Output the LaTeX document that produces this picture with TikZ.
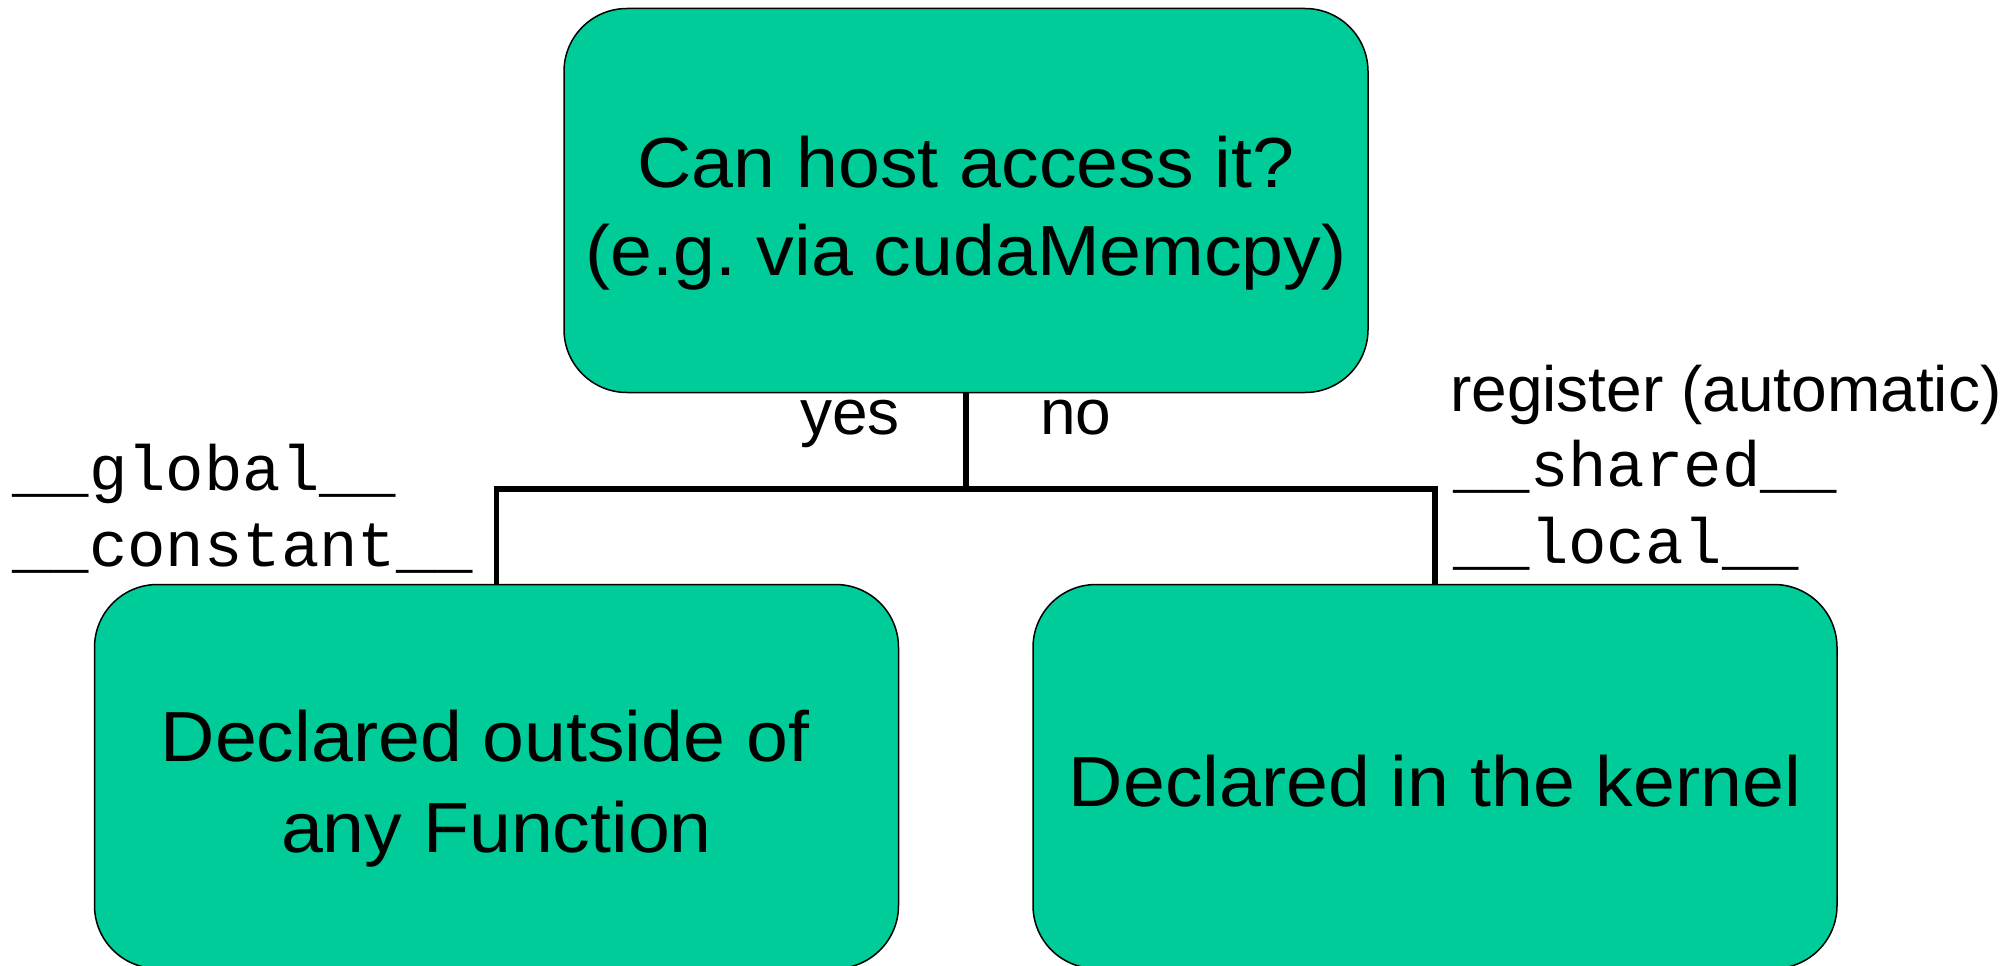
\documentclass[tikz,border=0pt]{standalone}
\usepackage{fontspec}
\setmainfont{Liberation Sans}
\newfontfamily\boxfont[FakeStretch=1.06]{Liberation Sans}
\setmonofont{Liberation Mono}
\definecolor{boxgreen}{RGB}{0,204,153}
\begin{document}
\begin{tikzpicture}[x=1pt,y=-1pt,
  box/.style={draw=black, line width=1.5pt, fill=boxgreen, rounded corners=63pt,
    minimum width=804pt, minimum height=384pt, inner sep=0pt, outer sep=0pt},
  bigtxt/.style={font=\boxfont\fontsize{71}{85}\selectfont, inner sep=0pt, anchor=base},
  lbl/.style={font=\fontsize{64}{76}\selectfont, inner sep=0pt, anchor=base west},
  mono/.style={font=\ttfamily\fontsize{64}{76}\selectfont, inner sep=0pt, anchor=base west},
  conn/.style={draw=black, line width=5.5pt, line join=miter}
]
\useasboundingbox (0,0) rectangle (2010,966);
% boxes
\node[box] (top) at (966,200.5) {};
\node[box] (left) at (496.5,776.5) {};
\node[box] (right) at (1435,776.5) {};
% box texts
\node[bigtxt] (q1) at (966,187.5) {Can host access it?};
\node[bigtxt] (q2) at (966,275.5) {(e.g.\ via cudaMemcpy)};
\node[bigtxt] (l1) at (485,761) {Declared outside of};
\node[bigtxt] (l2) at (496.5,852) {any Function};
\node[bigtxt] (r1) at (1435,806) {Declared in the kernel};
% connectors
\coordinate (split) at (966,489);
\draw[conn] (top.south) -- (split);
\draw[conn] (left.north) |- (split) -| (right.north);
% labels
\node[lbl] (yes) at (800,434) {yes};
\node[lbl] (no) at (1040,434) {no};
\node[lbl] (reg) at (1450,411) {register (automatic)};
\node[mono] (glob) at (12,490) {\_\_global\_\_};
\node[mono] (const) at (12,566) {\_\_constant\_\_};
\node[mono] (shar) at (1453,486) {\_\_shared\_\_};
\node[mono] (loc) at (1453,563) {\_\_local\_\_};
\end{tikzpicture}
\end{document}
